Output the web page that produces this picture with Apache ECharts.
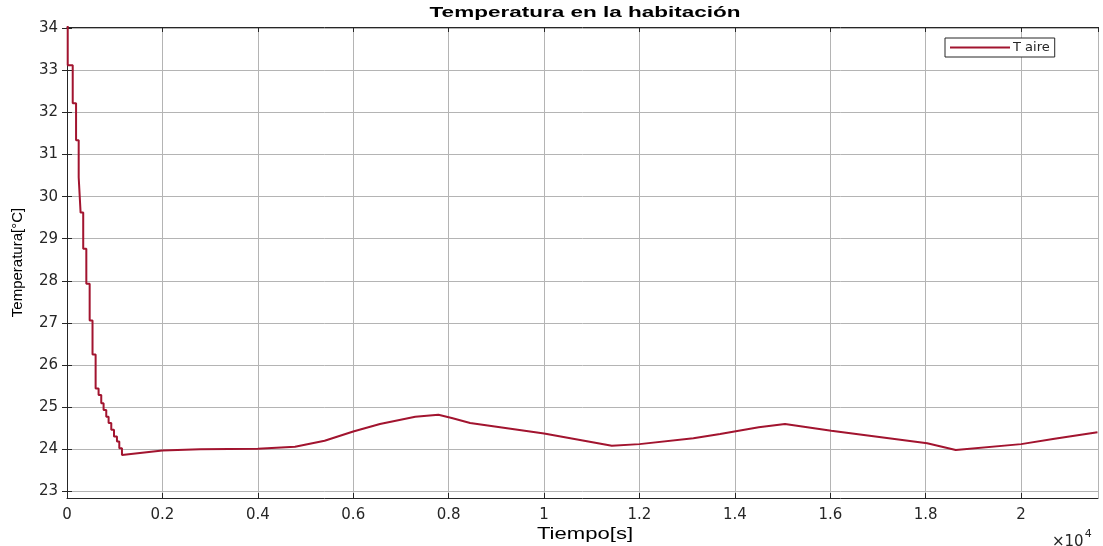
<!DOCTYPE html>
<html>
<head>
<meta charset="utf-8">
<script src="https://cdn.jsdelivr.net/npm/echarts@6/dist/echarts.min.js"></script>
<style>
  html, body { margin: 0; padding: 0; background: #fff; }
  #chart { width: 1103px; height: 546px; }
</style>
</head>
<body>
<div id="chart"></div>
<script>
// values (time in s, temperature in °C)
var timeS = [15, 15, 120, 120, 190, 190, 245, 245, 285, 285, 340, 340, 405, 405, 475, 475,
    535, 535, 600, 600, 662, 662, 718, 718, 767, 767, 823, 823, 872, 872, 928, 928,
    985, 985, 1047, 1047, 1096, 1096, 1152, 1152, 1186, 2000, 2790, 4000, 4780, 5400,
    6000, 6560, 7300, 7785, 8065, 8450, 10000, 11420, 12000, 13130, 13690, 14500, 15050,
    16020, 18030, 18630, 20000, 20700, 21600];
var tempC = [34.5, 33.12, 33.12, 32.22, 32.22, 31.34, 31.34, 30.46, 30.46, 29.62, 29.62, 28.76, 28.76, 27.93, 27.93, 27.06,
    27.06, 26.25, 26.25, 25.44, 25.44, 25.29, 25.29, 25.09, 25.09, 24.93, 24.93, 24.77, 24.77, 24.62, 24.62, 24.46,
    24.46, 24.30, 24.30, 24.18, 24.18, 24.02, 24.02, 23.86, 23.84, 23.97, 24.0, 24.01, 24.06, 24.2,
    24.42, 24.6, 24.77, 24.82, 24.74, 24.62, 24.37, 24.08, 24.12, 24.26, 24.36, 24.52, 24.6,
    24.44, 24.14, 23.98, 24.12, 24.25, 24.4];
var yTicks = [23, 24, 25, 26, 27, 28, 29, 30, 31, 32, 33, 34];
var seriesName = 'T aire';

var myChart = echarts.init(document.getElementById('chart'));

var data = timeS.map(function (t, i) { return [t, tempC[i]]; });

var axisColor = '#262626';
var gridColor = '#b4b4b4';
var font = 'Liberation Sans';
var tickFont = 'DejaVu Sans';

var option = {
    animation: false,
    backgroundColor: '#fff',
    textStyle: { fontFamily: font },
    legend: {
        left: 945,
        top: 38,
        padding: [3, 5, 3, 5],
        itemGap: 0,
        itemWidth: 60,
        itemHeight: 2,
        icon: 'rect',
        borderColor: axisColor,
        borderWidth: 1,
        borderRadius: 0,
        backgroundColor: '#fff',
        textStyle: { fontSize: 13, fontFamily: tickFont, color: axisColor, padding: [0, 0, 0, -2] },
        data: [seriesName]
    },
    grid: { left: 67, right: 5, top: 27, bottom: 48 },
    xAxis: [{
        type: 'value',
        min: 0,
        max: 21611,
        interval: 2000,
        axisLine: { show: true, lineStyle: { color: axisColor } },
        axisTick: { show: true, inside: true, length: 5, lineStyle: { color: axisColor } },
        axisLabel: {
            color: axisColor, fontSize: 15, fontFamily: tickFont, margin: 10, showMaxLabel: false,
            formatter: function (v) { return String(+(v / 10000).toFixed(1)); }
        },
        splitLine: { show: true, lineStyle: { color: gridColor } }
    }, {
        type: 'value',
        position: 'top',
        min: 0,
        max: 21611,
        interval: 2000,
        axisLine: { show: true, lineStyle: { color: axisColor } },
        axisTick: { show: true, inside: true, length: 5, lineStyle: { color: axisColor } },
        axisLabel: { show: false },
        splitLine: { show: false }
    }],
    yAxis: [{
        type: 'value',
        min: 22.84,
        max: 34.03,
        name: 'Temperatura[°C]',
        nameLocation: 'middle',
        nameGap: 42,
        nameTextStyle: { fontSize: 15, color: '#000' },
        axisLine: { show: true, lineStyle: { color: axisColor } },
        axisTick: { show: true, inside: true, length: 5, customValues: yTicks, lineStyle: { color: axisColor } },
        axisLabel: { color: axisColor, fontSize: 15, fontFamily: tickFont, margin: 9, customValues: yTicks },
        splitLine: { show: true, lineStyle: { color: gridColor } }
    }, {
        type: 'value',
        position: 'right',
        min: 22.84,
        max: 34.03,
        axisLine: { show: true, lineStyle: { color: axisColor } },
        axisTick: { show: true, inside: true, length: 5, customValues: yTicks, lineStyle: { color: axisColor } },
        axisLabel: { show: false },
        splitLine: { show: false }
    }],
    graphic: [{
        // title, stretched sideways like the source image
        type: 'text',
        x: 585,
        y: 13,
        scaleX: 1.5,
        style: {
            text: 'Temperatura en la habitación',
            align: 'center',
            verticalAlign: 'middle',
            fontSize: 15,
            fontWeight: 'bold',
            fontFamily: font,
            fill: '#000'
        }
    }, {
        type: 'text',
        x: 585,
        y: 535,
        scaleX: 1.38,
        style: {
            text: 'Tiempo[s]',
            align: 'center',
            verticalAlign: 'middle',
            fontSize: 16,
            fontFamily: font,
            fill: '#000'
        }
    }, {
        type: 'text',
        x: 1052,
        y: 529,
        style: {
            text: '{a|×10}{b|4}',
            rich: {
                a: { fontSize: 15, fill: axisColor, fontFamily: tickFont, verticalAlign: 'bottom' },
                b: { fontSize: 11, fill: axisColor, fontFamily: tickFont, verticalAlign: 'top', padding: [0, 0, 10, 1] }
            }
        }
    }],
    series: [{
        name: seriesName,
        type: 'line',
        data: data,
        showSymbol: false,
        symbol: 'none',
        clip: true,
        color: '#A2142F',
        lineStyle: { color: '#A2142F', width: 2 }
    }]
};

myChart.setOption(option);
</script>
</body>
</html>
